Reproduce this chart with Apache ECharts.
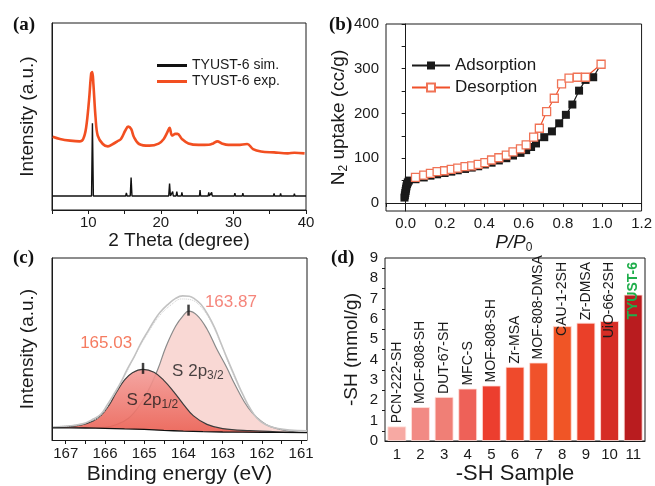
<!DOCTYPE html>
<html>
<head>
<meta charset="utf-8">
<title>TYUST-6</title>
<script src="https://cdn.jsdelivr.net/npm/echarts@6/dist/echarts.min.js"></script>
<style>
  html, body { margin: 0; padding: 0; background: #fff; }
  #chart { width: 655px; height: 486px; }
</style>
</head>
<body>
<div id="chart"></div>
<script>
  // (a) PXRD, [2theta, intensity]
  var simPattern = [
    [5, 7.5], [10.45, 7.5], [10.57, 46.4], [10.7, 7.5], [15.15, 7.5], [15.25, 9.2], [15.35, 7.5],
    [15.78, 7.5], [15.9, 17.4], [16.02, 7.5], [21.08, 7.5], [21.2, 14.1], [21.32, 7.5],
    [21.55, 7.5], [21.63, 9.8], [21.71, 7.5], [22.1, 7.5], [22.2, 9.8], [22.3, 7.5],
    [22.82, 7.5], [22.9, 9.4], [22.98, 7.5], [25.32, 7.5], [25.4, 10.6], [25.48, 7.5],
    [26.52, 7.5], [26.6, 9.4], [26.68, 7.5], [26.92, 7.5], [27, 9.4], [27.08, 7.5],
    [30.12, 7.5], [30.2, 9], [30.28, 7.5], [31.22, 7.5], [31.3, 9], [31.38, 7.5],
    [35.52, 7.5], [35.6, 8.9], [35.68, 7.5], [36.42, 7.5], [36.5, 8.9], [36.58, 7.5],
    [38.32, 7.5], [38.4, 8.8], [38.48, 7.5], [40, 7.5]
  ];
  var expPattern = [
    [5.1, 39.2], [6.1, 38], [7.5, 37.1], [8.8, 36.7], [9.3, 38], [9.7, 44], [10.1, 58.6],
    [10.4, 73], [10.55, 73.8], [10.7, 67.6], [11, 49.6], [11.3, 39.8], [12, 35.3],
    [12.7, 34], [13.4, 35.3], [14, 36.7], [14.5, 38], [15.1, 42.5], [15.5, 44.6],
    [15.9, 43.4], [16.3, 38.9], [17, 35.3], [18.4, 34.4], [19.7, 35.5], [20.4, 38],
    [20.9, 41.6], [21.2, 43.9], [21.55, 39.8], [22, 40.7], [22.3, 40.7], [22.9, 38],
    [23.8, 35.6], [25.2, 34.8], [26.6, 34.9], [27.2, 35.6], [27.8, 36.7], [28.4, 35.6],
    [29.3, 34.8], [30.6, 34.8], [31.9, 35.3], [32.7, 32.6], [33.8, 31.3], [35.6, 30.8],
    [37.5, 30.3], [38.4, 30.6], [39.8, 30.3]
  ];

  // (b) N2 isotherm, [P/P0, cc/g]
  var adsorption = [
    [-0.006, 12], [-0.004, 17], [-0.002, 22], [0, 27], [0.002, 32], [0.004, 37], [0.007, 42],
    [0.011, 46], [0.016, 50], [0.05, 53], [0.092, 57], [0.126, 61], [0.16, 64], [0.198, 67],
    [0.232, 70], [0.265, 73], [0.302, 76], [0.336, 79], [0.369, 82], [0.403, 86], [0.437, 90],
    [0.474, 95], [0.512, 100], [0.546, 106], [0.584, 112], [0.613, 118], [0.638, 125],
    [0.663, 133], [0.705, 147], [0.744, 160], [0.781, 178], [0.815, 197], [0.848, 220],
    [0.882, 251], [0.915, 275], [0.954, 281], [0.994, 310]
  ];
  var desorption = [
    [0.05, 57], [0.092, 62], [0.126, 66], [0.16, 70], [0.198, 72], [0.232, 75], [0.265, 78],
    [0.302, 81], [0.336, 83], [0.369, 86], [0.403, 90], [0.437, 96], [0.474, 101], [0.512, 107],
    [0.546, 114], [0.584, 121], [0.613, 130], [0.651, 147], [0.68, 167], [0.717, 204],
    [0.756, 234], [0.793, 266], [0.831, 279], [0.873, 281], [0.915, 281], [0.994, 310]
  ];

  // (c) XPS S 2p, [binding energy, intensity]
  var xpsBaseline = [
    [167.35, 6.7], [166.5, 6.6], [166, 6.4], [165.5, 6.1], [165, 5.8], [164.5, 5.3],
    [164, 4.9], [163.5, 4.6], [163, 4.4], [162, 4.2], [160.85, 4.1]
  ];
  var xpsP12 = [
    [167.35, 6.8], [167, 7.2], [166.6, 8.3], [166.3, 10.5], [166.1, 13.5], [165.9, 19],
    [165.7, 26.5], [165.5, 33], [165.3, 37], [165.03, 38.8], [164.75, 37.2], [164.5, 32.8],
    [164.25, 26.6], [164, 19.6], [163.75, 13.4], [163.4, 8.6], [163, 6.3], [162.3, 5.1],
    [161.5, 4.4], [160.85, 4.1]
  ];
  var xpsP32 = [
    [167.35, 6.7], [166.5, 6.6], [166, 7], [165.7, 8.5], [165.4, 12], [165.15, 18],
    [164.9, 27], [164.65, 39], [164.45, 51], [164.2, 62.5], [164, 68.5], [163.87, 70.8],
    [163.65, 68.5], [163.4, 61], [163.15, 50], [162.9, 40], [162.7, 31], [162.45, 21],
    [162.25, 15], [162, 10], [161.8, 7.5], [161.4, 5.2], [160.85, 4.1]
  ];
  var xpsEnvelope = [
    [167.35, 7], [166.9, 7.8], [166.55, 9], [166.3, 11.5], [166.1, 14.3], [165.95, 19],
    [165.78, 24.9], [165.6, 31.5], [165.43, 39], [165.25, 46], [165.09, 53], [164.9, 60],
    [164.75, 65.4], [164.6, 70], [164.41, 74.2], [164.2, 77.8], [164.02, 79.2], [163.85, 79],
    [163.73, 77.8], [163.55, 74.5], [163.38, 69], [163.2, 61.5], [163.04, 53], [162.87, 44],
    [162.7, 35.4], [162.53, 27], [162.36, 19.6], [162.2, 14], [162.02, 9.9], [161.8, 7.5],
    [161.59, 6.3], [161.3, 5.5], [160.85, 5]
  ];
  var xpsRaw = [
    [167.35, 7.4], [166.8, 8], [166.4, 10], [166.1, 13.5], [165.8, 23.5], [165.5, 35],
    [165.2, 48], [164.9, 59], [164.6, 68.5], [164.3, 74.5], [164.05, 77.5], [163.8, 77],
    [163.55, 73], [163.3, 65], [163.05, 53], [162.8, 39.5], [162.55, 27.5], [162.3, 17.5],
    [162.05, 10.5], [161.7, 6.8], [161.3, 5.4], [160.85, 5]
  ];
  var xpsPeaks = [[165.03, 38.8], [163.87, 70.8]];

  // (d) -SH content
  var sampleIds = ['1', '2', '3', '4', '5', '6', '7', '8', '9', '10', '11'];
  var sampleNames = ['PCN-222-SH', 'MOF-808-SH', 'DUT-67-SH', 'MFC-S', 'MOF-808-SH', 'Zr-MSA',
    'MOF-808-DMSA', 'CAU-1-2SH', 'Zr-DMSA', 'UiO-66-2SH', 'TYUST-6'];
  var shContent = [0.72, 1.67, 2.17, 2.58, 2.73, 3.65, 3.86, 5.65, 5.82, 5.9, 7.2];
  var barColors = ['#f7a9a3', '#f28a84', '#f07f76', '#ee6158', '#ec3e2e', '#ef4a2c',
    '#f0522b', '#f05526', '#ea4029', '#d62d25', '#b91c1f'];

  var FONT = '"Liberation Sans", Arial, Helvetica, sans-serif';
  var shMax = 9;

  var chart = echarts.init(document.getElementById('chart'));

  function ticks(from, to, step) {
    var out = [];
    for (var v = from; v <= to + 1e-9; v += step) out.push(+v.toFixed(3));
    return out;
  }

  var axisLineStyle = {lineStyle: {color: '#1a1a1a', width: 1}};
  var labelStyle = {color: '#1a1a1a', fontSize: 15, fontFamily: FONT};
  var nameStyle = {color: '#1a1a1a', fontSize: 19, fontFamily: FONT};
  var subRich = {sub: {fontSize: 12, fontFamily: FONT, color: '#1a1a1a', padding: [10, 0, 0, 0]}};

  var letterStyle = {fontFamily: '"Liberation Serif", "Times New Roman", serif', fontWeight: 'bold', fontSize: 19, color: '#111'};

  var option = {
    animation: false,
    backgroundColor: '#fff',
    textStyle: {fontFamily: FONT},
    title: [
      {text: '(a)', left: 8, top: 11, textStyle: letterStyle},
      {text: '(b)', left: 324, top: 11, textStyle: letterStyle},
      {text: '(c)', left: 8, top: 244, textStyle: letterStyle},
      {text: '(d)', left: 326, top: 244, textStyle: letterStyle}
    ],
    legend: [
      {
        data: ['TYUST-6 sim.', 'TYUST-6 exp.'],
        orient: 'vertical', left: 152, top: 53,
        icon: 'rect', itemWidth: 30, itemHeight: 3, itemGap: 1,
        textStyle: {fontSize: 14, color: '#1a1a1a', fontFamily: FONT, lineHeight: 15}
      },
      {
        data: ['Adsorption', 'Desorption'],
        orient: 'vertical', left: 406, top: 52,
        itemWidth: 38, itemHeight: 10, itemGap: 5,
        lineStyle: {width: 2},
        textStyle: {fontSize: 17, color: '#1a1a1a', fontFamily: FONT}
      }
    ],
    grid: [
      {left: 52, top: 23, width: 254, height: 187, show: true, borderColor: '#1a1a1a', borderWidth: 1},
      {left: 386, top: 24, width: 257, height: 187, show: true, borderColor: '#1a1a1a', borderWidth: 1},
      {left: 52, top: 258, width: 255, height: 189, show: true, borderColor: '#1a1a1a', borderWidth: 1},
      {left: 385, top: 258, width: 260, height: 189, show: true, borderColor: '#1a1a1a', borderWidth: 1}
    ],
    xAxis: [
      {
        gridIndex: 0, type: 'value', min: 5, max: 40, interval: 5,
        name: '2 Theta (degree)', nameLocation: 'middle', nameGap: 21, nameTextStyle: nameStyle,
        axisLine: axisLineStyle, splitLine: {show: false},
        axisTick: {length: 4, lineStyle: {color: '#1a1a1a'}},
        axisLabel: Object.assign({margin: 5, formatter: function (v) { return v % 10 === 0 ? v : ''; }}, labelStyle)
      },
      {
        gridIndex: 1, type: 'value', min: -0.1, max: 1.2, interval: 0.1,
        name: '{it|P/P}{sub|0}', nameLocation: 'middle', nameGap: 21,
        nameTextStyle: Object.assign({rich: {it: {fontStyle: 'italic', fontSize: 19, fontFamily: FONT, color: '#1a1a1a'}, sub: subRich.sub}}, nameStyle),
        axisLine: axisLineStyle, splitLine: {show: false},
        axisTick: {length: 4, lineStyle: {color: '#1a1a1a'}},
        axisLabel: Object.assign({margin: 5, formatter: function (v) {
          return (v > -0.05 && Math.round(v * 10) % 2 === 0) ? v.toFixed(1) : '';
        }}, labelStyle)
      },
      {
        gridIndex: 2, type: 'value', min: 160.85, max: 167.35, inverse: true, z: 10,
        name: 'Binding energy (eV)', nameLocation: 'middle', nameGap: 24, nameTextStyle: Object.assign({}, nameStyle, {fontSize: 21}),
        axisLine: axisLineStyle, splitLine: {show: false},
        axisTick: {length: 4, lineStyle: {color: '#1a1a1a'}, customValues: ticks(161, 167, 0.5)},
        axisLabel: Object.assign({margin: 6, customValues: ticks(161, 167, 1)}, labelStyle)
      },
      {
        gridIndex: 3, type: 'category', data: sampleIds,
        name: '-SH Sample', nameLocation: 'middle', nameGap: 22, nameTextStyle: Object.assign({}, nameStyle, {fontSize: 22}),
        axisLine: axisLineStyle,
        axisTick: {alignWithLabel: true, length: 4, lineStyle: {color: '#1a1a1a'}},
        axisLabel: Object.assign({margin: 6}, labelStyle)
      }
    ],
    yAxis: [
      {
        gridIndex: 0, type: 'value', min: 0, max: 100,
        name: 'Intensity (a.u.)', nameLocation: 'middle', nameGap: 15, nameTextStyle: nameStyle,
        axisLine: axisLineStyle, axisTick: {show: false}, axisLabel: {show: false}, splitLine: {show: false}
      },
      {
        gridIndex: 1, type: 'value', min: -18, max: 400,
        name: 'N{sub|2} uptake (cc/g)', nameLocation: 'middle', nameGap: 27,
        nameTextStyle: Object.assign({rich: subRich}, nameStyle),
        axisLine: axisLineStyle, splitLine: {show: false},
        axisTick: {length: 4, lineStyle: {color: '#1a1a1a'}, customValues: ticks(0, 400, 50)},
        axisLabel: Object.assign({margin: 7, customValues: ticks(0, 400, 100)}, labelStyle)
      },
      {
        gridIndex: 2, type: 'value', min: 0, max: 100, z: 10,
        name: 'Intensity (a.u.)', nameLocation: 'middle', nameGap: 15, nameTextStyle: nameStyle,
        axisLine: axisLineStyle, axisTick: {show: false}, axisLabel: {show: false}, splitLine: {show: false}
      },
      {
        gridIndex: 3, type: 'value', min: 0, max: shMax, interval: 1,
        name: '-SH (mmol/g)', nameLocation: 'middle', nameGap: 24, nameTextStyle: nameStyle,
        axisLine: axisLineStyle, splitLine: {show: false},
        axisTick: {length: 4, lineStyle: {color: '#1a1a1a'}},
        minorTick: {show: true, splitNumber: 2, length: 3, lineStyle: {color: '#1a1a1a'}},
        axisLabel: Object.assign({margin: 7}, labelStyle)
      }
    ],
    series: [
      // (a)
      {
        name: 'TYUST-6 sim.', type: 'line', xAxisIndex: 0, yAxisIndex: 0, data: simPattern,
        symbol: 'none', lineStyle: {color: '#111', width: 1.4}, itemStyle: {color: '#111'}
      },
      {
        name: 'TYUST-6 exp.', type: 'line', xAxisIndex: 0, yAxisIndex: 0, data: expPattern,
        symbol: 'none', smooth: 0.35, lineStyle: {color: '#f24f21', width: 2.6}, itemStyle: {color: '#f24f21'}
      },
      // (b)
      {
        name: 'Adsorption', type: 'line', xAxisIndex: 1, yAxisIndex: 1, data: adsorption,
        symbol: 'rect', symbolSize: 8, lineStyle: {color: '#1a1a1a', width: 1.2},
        itemStyle: {color: '#1a1a1a'}
      },
      {
        name: 'Desorption', type: 'line', xAxisIndex: 1, yAxisIndex: 1, data: desorption,
        symbol: 'rect', symbolSize: 8, lineStyle: {color: '#f0502a', width: 1.2},
        itemStyle: {color: '#fff', borderColor: '#f07356', borderWidth: 1.3}
      },
      // (c)
      {
        name: 'S 2p3/2', type: 'line', xAxisIndex: 2, yAxisIndex: 2, data: xpsP32, z: 2,
        symbol: 'none', smooth: 0.4, lineStyle: {color: '#8a8a8a', width: 1.2},
        areaStyle: {color: '#f9d8d4', opacity: 1}
      },
      {
        name: 'S 2p1/2', type: 'line', xAxisIndex: 2, yAxisIndex: 2, data: xpsP12, z: 3,
        symbol: 'none', smooth: 0.4, lineStyle: {color: '#3c3c3c', width: 1.2},
        areaStyle: {
          opacity: 0.9,
          color: new echarts.graphic.LinearGradient(0, 0, 0, 1, [
            {offset: 0, color: '#f39c98'}, {offset: 1, color: '#ea5a4c'}
          ])
        }
      },
      {
        name: 'raw', type: 'line', xAxisIndex: 2, yAxisIndex: 2, data: xpsRaw, z: 4,
        symbol: 'none', smooth: 0.4, lineStyle: {color: '#cfcfcf', width: 1, type: 'dotted'}
      },
      {
        name: 'envelope', type: 'line', xAxisIndex: 2, yAxisIndex: 2, data: xpsEnvelope, z: 4,
        symbol: 'none', smooth: 0.4, lineStyle: {color: '#c2c2c2', width: 1.6}
      },
      {
        name: 'baseline', type: 'line', xAxisIndex: 2, yAxisIndex: 2, data: xpsBaseline, z: 5,
        symbol: 'none', smooth: 0.3, lineStyle: {color: '#111', width: 1.3},
        areaStyle: {color: '#fff', opacity: 1}
      },
      {
        name: 'peaks', type: 'scatter', xAxisIndex: 2, yAxisIndex: 2, data: xpsPeaks, z: 6,
        symbol: 'rect', symbolSize: [2.5, 11], symbolOffset: [0, -1], itemStyle: {color: '#111'}, silent: true
      },
      {
        name: 'notes', type: 'scatter', xAxisIndex: 2, yAxisIndex: 2, z: 6, symbolSize: 0, silent: true,
        label: {show: true, position: 'inside', fontSize: 17, fontFamily: FONT, color: '#1a1a1a', rich: subRich},
        data: [
          {value: [165.97, 52.9], label: {formatter: '165.03', color: '#f25a38'}},
          {value: [162.79, 75.7], label: {formatter: '163.87', color: '#f3675a'}},
          {value: [163.63, 38], label: {formatter: 'S 2p{sub|3/2}'}},
          {value: [164.79, 22], label: {formatter: 'S 2p{sub|1/2}'}}
        ]
      },
      // (d)
      {
        name: '-SH', type: 'bar', xAxisIndex: 3, yAxisIndex: 3, barWidth: '80%',
        data: shContent.map(function (v, i) {
          return {
            value: v,
            itemStyle: {color: barColors[i], borderColor: 'rgba(255,225,220,0.8)', borderWidth: 1},
            label: {show: v <= 5}
          };
        }),
        label: {
          show: true, position: 'top', rotate: 90, align: 'left', verticalAlign: 'middle', distance: 3,
          fontSize: 14, fontFamily: FONT, color: '#1a1a1a',
          formatter: function (p) { return sampleNames[p.dataIndex]; }
        }
      },
      {
        name: 'top labels', type: 'bar', xAxisIndex: 3, yAxisIndex: 3, barWidth: '80%', barGap: '-100%',
        silent: true, itemStyle: {color: 'rgba(0,0,0,0)'}, z: 5,
        data: shContent.map(function (v, i) {
          var last = i === shContent.length - 1;
          return v > 5 ? {
            value: shMax,
            label: last ? {color: '#1fae4b', fontWeight: 'bold'} : {}
          } : '-';
        }),
        label: {
          show: true, position: 'insideTop', rotate: 90, align: 'right', verticalAlign: 'middle', distance: 4,
          fontSize: 14, fontFamily: FONT, color: '#1a1a1a',
          formatter: function (p) { return sampleNames[p.dataIndex]; }
        }
      }
    ]
  };

  chart.setOption(option);
</script>
</body>
</html>
